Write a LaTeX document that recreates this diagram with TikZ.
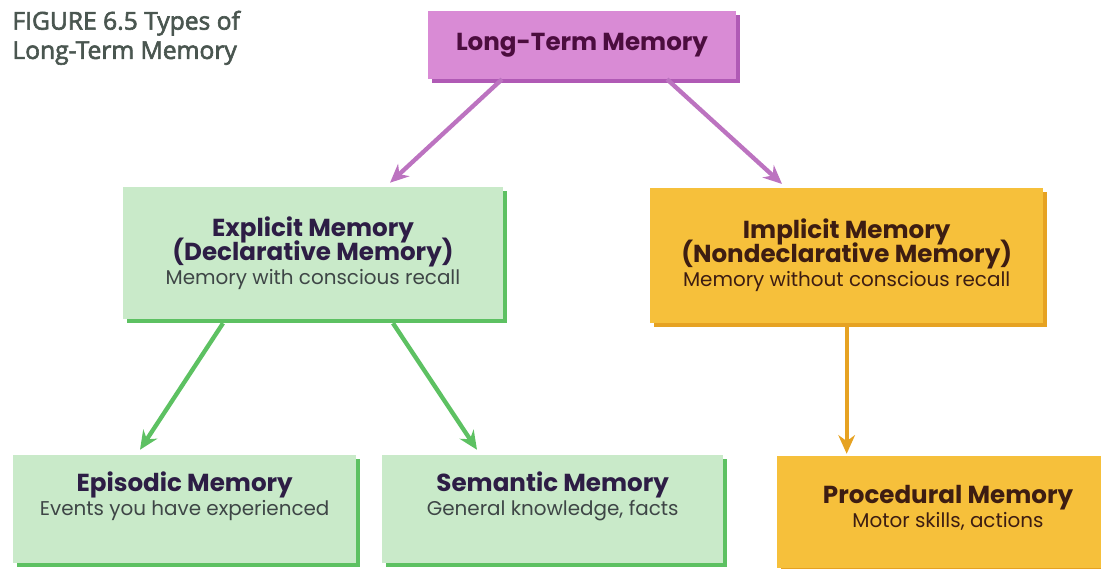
\documentclass[tikz,border=0pt]{standalone}
\usepackage{fontspec}
\setmainfont{Poppins}
\newfontfamily\capfont[FakeBold=2.5]{Open Sans}
\usetikzlibrary{arrows.meta, shadows}
\definecolor{ltmfill}{HTML}{D98BD5}
\definecolor{ltmedge}{HTML}{B05AB5}
\definecolor{ltmtext}{HTML}{4B0D3E}
\definecolor{expfill}{HTML}{C9EAC9}
\definecolor{expedge}{HTML}{5DC162}
\definecolor{exptext}{HTML}{2D1D45}
\definecolor{subtext}{HTML}{3E4646}
\definecolor{impfill}{HTML}{F6C03B}
\definecolor{impedge}{HTML}{E6A222}
\definecolor{imptext}{HTML}{3D1D12}
\definecolor{captext}{HTML}{4A5650}
\lineskiplimit=-50pt
\newcommand\headfont{\bfseries\fontsize{21}{20.5}\selectfont}
\newcommand\subfont{\fontsize{17}{20.5}\selectfont}
\tikzstyle{memory} = [rectangle, align=center, inner sep=0pt, font=\fontsize{17}{20.5}\selectfont]
\tikzstyle{ltmbox} = [memory, fill=ltmfill, text=ltmtext, drop shadow={shadow xshift=0.12cm, shadow yshift=-0.12cm, fill=ltmedge, opacity=1}]
\tikzstyle{expbox} = [memory, fill=expfill, text=exptext, drop shadow={shadow xshift=0.12cm, shadow yshift=-0.12cm, fill=expedge, opacity=1}]
\tikzstyle{impbox} = [memory, fill=impfill, text=imptext, drop shadow={shadow xshift=0.12cm, shadow yshift=-0.12cm, fill=impedge, opacity=1}]
\tikzstyle{arrow} = [line width=1.3mm, -{Stealth[length=5.6mm, width=5mm]}]
\begin{document}
\begin{tikzpicture}
\useasboundingbox (0,0) rectangle (33.03,-17.07);
\clip (0,0) rectangle (33.03,-17.07);
%caption
\node(caption)at(0.25cm,-0.2cm)[anchor=north west, align=left, text=captext, font=\capfont\fontsize{21}{25}\selectfont]{FIGURE 6.5 Types of\\Long-Term Memory};
%top
\node(ltm)at(17.46cm,-1.35cm)[ltmbox, minimum width=9.24cm, minimum height=2.04cm]{\headfont Long-Term Memory};
%explicit side
\node(explicit)at(9.39cm,-7.59cm)[expbox, minimum width=11.4cm, minimum height=3.96cm]{\headfont Explicit Memory\\\headfont (Declarative Memory)\\\color{subtext}\subfont Memory with conscious recall};
\node(episodic)at(5.54cm,-15.27cm)[expbox, minimum width=10.29cm, minimum height=3.24cm, text depth=0.95cm]{\headfont Episodic Memory\\\color{subtext}\subfont Events you have experienced};
\node(semantic)at(16.58cm,-15.27cm)[expbox, minimum width=10.23cm, minimum height=3.24cm, text depth=0.95cm]{\headfont Semantic Memory\\\color{subtext}\subfont General knowledge, facts};
%implicit side
\node(implicit)at(25.4cm,-7.67cm)[impbox, minimum width=11.79cm, minimum height=4.05cm]{\headfont Implicit Memory\\\headfont (Nondeclarative Memory)\\\subfont Memory without conscious recall};
\node(procedural)at(28.44cm,-15.36cm)[impbox, minimum width=10.26cm, minimum height=3.36cm, text depth=0.35cm]{\headfont Procedural Memory\\\subfont Motor skills, actions};
%arrows
\draw[arrow, color=ltmedge!85!white]([xshift=-2.4cm]ltm.south)--([xshift=2.31cm, yshift=0.12cm]explicit.north);
\draw[arrow, color=ltmedge!85!white]([xshift=2.55cm]ltm.south)--([xshift=-1.94cm, yshift=0.12cm]implicit.north);
\draw[arrow, color=expedge]([xshift=-2.7cm, yshift=-0.12cm]explicit.south)--([xshift=-1.34cm, yshift=0.15cm]episodic.north);
\draw[arrow, color=expedge]([xshift=2.4cm, yshift=-0.12cm]explicit.south)--([xshift=-2.27cm, yshift=0.15cm]semantic.north);
\draw[arrow, color=impedge]([yshift=-0.12cm]implicit.south)--([yshift=0.06cm]implicit.south |- procedural.north);
\end{tikzpicture}
\end{document}
